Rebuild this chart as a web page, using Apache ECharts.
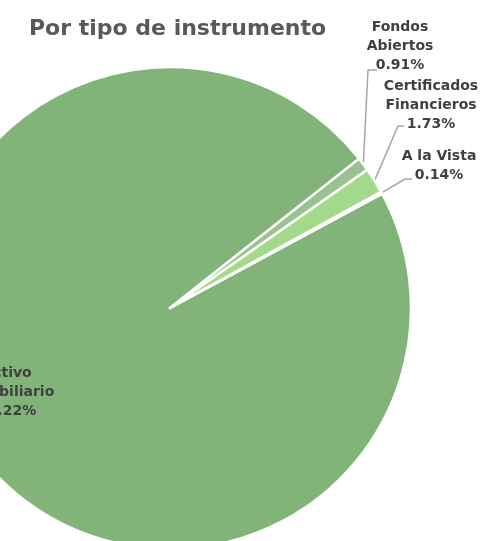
<!DOCTYPE html>
<html>
<head>
<meta charset="utf-8">
<script src="https://cdn.jsdelivr.net/npm/echarts@6/dist/echarts.min.js"></script>
<style>
  html, body { margin: 0; padding: 0; background: #fff; }
  #chart { width: 480px; height: 541px; }
</style>
</head>
<body>
<div id="chart"></div>
<script>
// datos por tipo de instrumento
var categories = ['Activo Inmobiliario', 'Fondos Abiertos', 'Certificados Financieros', 'A la Vista'];
var values = [97.22, 0.91, 1.73, 0.14];
var colors = ['#82B47A', '#9AC290', '#A3D98B', '#8FC283'];

var chart = echarts.init(document.getElementById('chart'));

// donde va cada etiqueta (centro del texto) y el codo de la linea guia
var labelSpots = [
    { x: 7, y: 392 },
    { x: 400, y: 46, bend: [368, 70], end: [377, 70] },
    { x: 431, y: 105, bend: [398, 126], end: [404, 126] },
    { x: 439, y: 166, bend: [405, 179], end: [412, 179] }
];

var pieData = categories.map(function(name, i){
    var item = {
        name: name,
        value: values[i],
        itemStyle: { color: colors[i] }
    };
    if(i === 0){
        item.label = { position: 'inside' };
        item.labelLine = { show: false };
    }
    return item;
});

var option = {
    title: {
        text: 'Por tipo de instrumento',
        left: 24,
        top: 13,
        textStyle: {
            fontFamily: 'DejaVu Sans',
            fontSize: 22,
            fontWeight: 'bold',
            color: '#595959'
        }
    },
    series: [
        {
            type: 'pie',
            center: [170, 308],
            radius: 241,
            startAngle: 28.3,
            clockwise: true,
            avoidLabelOverlap: false,
            itemStyle: {
                borderColor: '#fff',
                borderWidth: 2.5
            },
            label: {
                show: true,
                position: 'outside',
                fontFamily: 'DejaVu Sans',
                fontSize: 14,
                fontWeight: 'bold',
                color: '#404040',
                lineHeight: 19,
                align: 'center',
                formatter: function(p){
                    var words = p.name.split(' ');
                    var name = words.length === 2 ? words.join('\n') : p.name;
                    return name + '\n' + p.percent.toFixed(2) + '%';
                }
            },
            labelLine: {
                show: true,
                lineStyle: { color: '#A6A6A6', width: 1.5 }
            },
            labelLayout: function(params){
                var spot = labelSpots[params.dataIndex];
                var out = {
                    x: spot.x,
                    y: spot.y,
                    align: 'center',
                    verticalAlign: 'middle'
                };
                if(spot.bend && params.labelLinePoints){
                    out.labelLinePoints = [params.labelLinePoints[0], spot.bend, spot.end];
                }
                return out;
            },
            data: pieData
        }
    ]
};

chart.setOption(option);
</script>
</body>
</html>
